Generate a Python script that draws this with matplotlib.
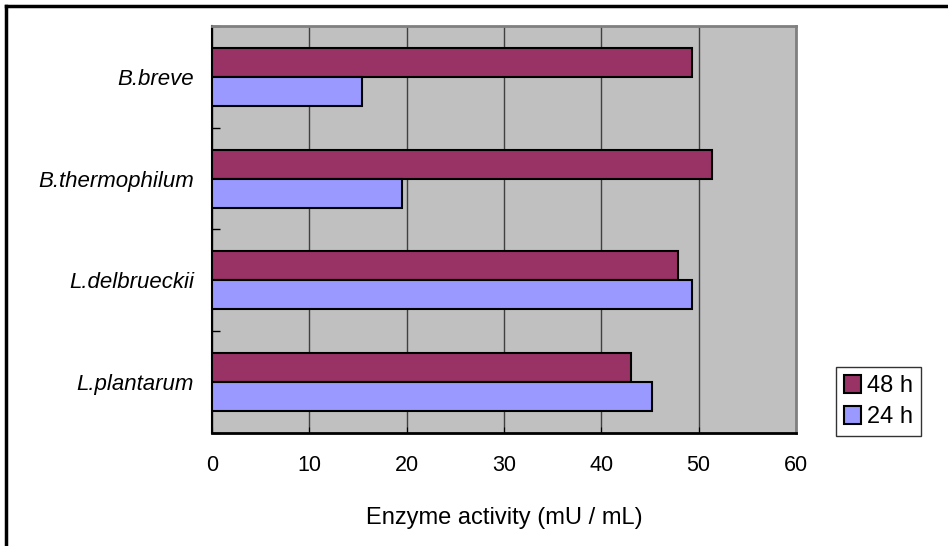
import matplotlib
matplotlib.use("Agg")
import matplotlib.pyplot as plt
from matplotlib.lines import Line2D
import numpy as np

plt.rcParams['font.family'] = ['Liberation Sans', 'DejaVu Sans']

# Dane
strains = ["L.plantarum", "L.delbrueckii", "B.thermophilum", "B.breve"]
act_48h = [43.1, 47.9, 51.4, 49.3]
act_24h = [45.2, 49.3, 19.5, 15.4]
x_ticks = [0, 10, 20, 30, 40, 50, 60]

c48 = "#993366"
c24 = "#9999FF"

fig = plt.figure(figsize=(9.48, 5.46), dpi=100)
ax = fig.add_axes([0.2236, 0.2070, 0.6160, 0.7454])
ax.set_facecolor("#C0C0C0")

y = np.arange(len(strains))
h = 0.285
ax.barh(y + h / 2, act_48h, height=h, color=c48, edgecolor="black", linewidth=1.5, label="48 h", zorder=3)
ax.barh(y - h / 2, act_24h, height=h, color=c24, edgecolor="black", linewidth=1.5, label="24 h", zorder=3)

ax.set_xlim(0, 60)
ax.set_ylim(-0.5, 3.5)
ax.set_xticks(x_ticks)
ax.set_xticklabels([str(v) for v in x_ticks], fontsize=15.5)
ax.tick_params(axis="x", direction="in", length=4, pad=16, colors="black")
ax.set_yticks(y)
ax.set_yticklabels(strains, fontsize=16, style="italic")
ax.tick_params(axis="y", length=0, pad=13)
ax.set_yticks(np.arange(-0.5, 3.6, 1.0), minor=True)
ax.tick_params(axis="y", which="minor", direction="in", length=6, width=1)

ax.grid(axis="x", color="#404040", linewidth=1, zorder=1)

ax.spines["left"].set_color("black")
ax.spines["left"].set_linewidth(1.5)
ax.spines["bottom"].set_color("black")
ax.spines["bottom"].set_linewidth(2)
ax.spines["top"].set_color("#808080")
ax.spines["top"].set_linewidth(2)
ax.spines["right"].set_color("#808080")
ax.spines["right"].set_linewidth(2)

ax.set_xlabel("Enzyme activity (mU / mL)", fontsize=17, labelpad=22)

leg = fig.legend(loc="upper left", bbox_to_anchor=(836 / 948, 1 - 367 / 546),
                 fontsize=17, frameon=True, fancybox=False, edgecolor="black",
                 handlelength=0.7, handleheight=0.8, handletextpad=0.25,
                 borderpad=0.35, labelspacing=0.35, borderaxespad=0)
leg.get_frame().set_linewidth(1)

# ramka obrazka (góra i lewa strona)
fig.add_artist(Line2D([6 / 948, 1], [1 - 6 / 546, 1 - 6 / 546], color="black", linewidth=2.5, transform=fig.transFigure))
fig.add_artist(Line2D([6 / 948, 6 / 948], [0, 1 - 6 / 546], color="black", linewidth=2.5, transform=fig.transFigure))

fig.savefig("out.png", dpi=100)
